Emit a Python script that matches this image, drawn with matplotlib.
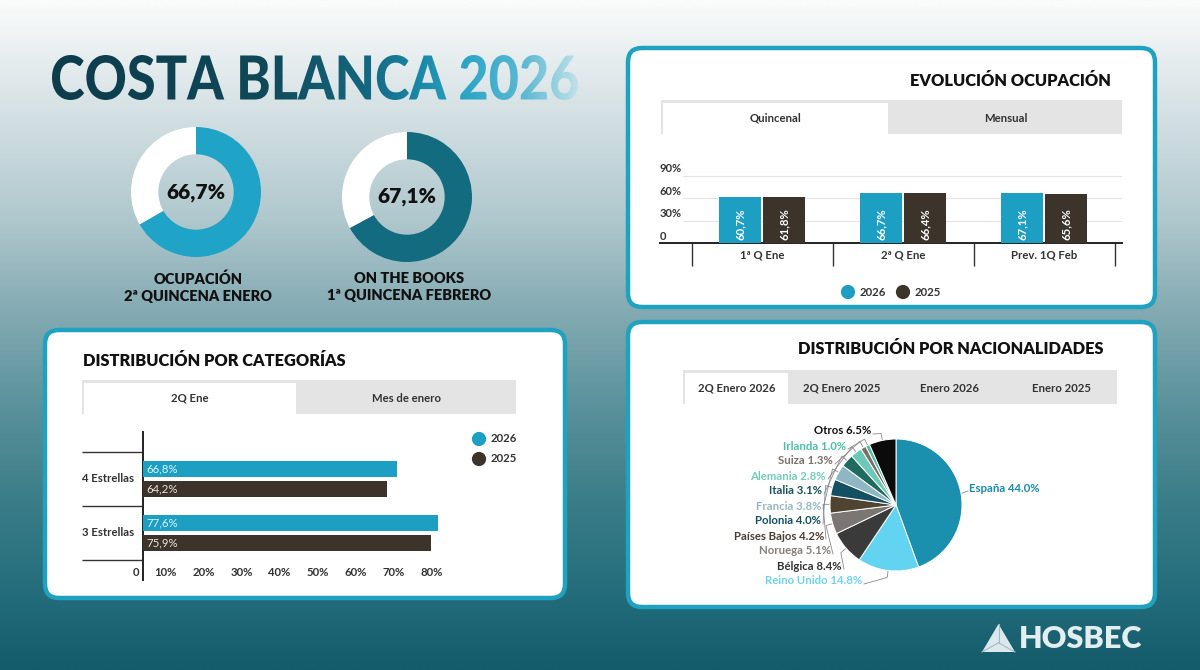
import numpy as np
import matplotlib
matplotlib.use("Agg")
import matplotlib.pyplot as plt
import matplotlib.transforms as mtransforms
from matplotlib.colors import LinearSegmentedColormap
from matplotlib.patches import FancyBboxPatch, Rectangle, PathPatch, Polygon
from matplotlib.textpath import TextPath
from matplotlib.font_manager import FontProperties

# ---- data ----
donut_values = [66.7, 67.1]
donut_labels = ["OCUPACIÓN\n2ª QUINCENA ENERO", "ON THE BOOKS\n1ª QUINCENA FEBRERO"]

evo_cats = ["1ª Q Ene", "2ª Q Ene", "Prev. 1Q Feb"]
evo_2026 = [60.7, 66.7, 67.1]
evo_2025 = [61.8, 66.4, 65.6]
evo_ticks = [0, 30, 60, 90]

cat_names = ["4 Estrellas", "3 Estrellas"]
cat_2026 = [66.8, 77.6]
cat_2025 = [64.2, 75.9]
cat_ticks = [0, 10, 20, 30, 40, 50, 60, 70, 80]

nat_names = ["España", "Reino Unido", "Bélgica", "Noruega", "Países Bajos", "Polonia",
             "Francia", "Italia", "Alemania", "Suiza", "Irlanda", "Otros"]
nat_values = [44.0, 14.8, 8.4, 5.1, 4.2, 4.0, 3.8, 3.1, 2.8, 1.3, 1.0, 6.5]
nat_colors = ["#1a8fae", "#62d3f0", "#3b3a3a", "#7b7672", "#4f4331", "#145062",
              "#8fb6c3", "#1f6b5f", "#6cc8b7", "#7e6f66", "#4ebfa8", "#0b0b0b"]
nat_label_colors = ["#1b8bab", "#6fd2ec", "#333333", "#85807b", "#4b3f31", "#165063",
                    "#97b7c2", "#1c5060", "#74cbb9", "#7a7067", "#4dbfa7", "#111111"]

C26 = "#1c9fc3"
C25 = "#3c342b"
BORDER = "#1ea2c0"
FONT = ["Lato", "DejaVu Sans"]
plt.rcParams["font.family"] = FONT


def fmt(v):
    return f"{v:.1f}".replace(".", ",") + "%"


fig = plt.figure(figsize=(12, 6.7), dpi=100)
W, H = 1200, 670


def px_axes(x0, y0, x1, y1, **kw):
    return fig.add_axes([x0 / W, 1 - y1 / H, (x1 - x0) / W, (y1 - y0) / H], **kw)


bg = px_axes(0, 0, W, H)
bg.axis("off")

# background gradient
bg_cmap = LinearSegmentedColormap.from_list(
    "bg", [(0, "#fafbfb"), (0.15, "#d8e3e6"), (0.33, "#aec7cd"), (0.45, "#88adb5"),
           (0.6, "#5c939c"), (0.75, "#3a7d88"), (0.9, "#226b7a"), (1.0, "#145b6c")])
bg.imshow(np.linspace(0, 1, 300)[:, None], extent=(0, W, H, 0), cmap=bg_cmap,
          aspect="auto", zorder=0)

# title with horizontal gradient
title_cmap = LinearSegmentedColormap.from_list(
    "t", [(0, "#0d3c4b"), (0.40, "#104858"), (0.60, "#146780"), (0.70, "#1a88a8"),
          (0.79, "#2ea5c6"), (0.90, "#5cb9d3"), (1.0, "#bde0e9")])
tp = TextPath((0, 0), "COSTA BLANCA 2026", size=100,
              prop=FontProperties(family="Lato", weight="black"))
ext = tp.get_extents()
sx = (578 - 52) / ext.width
sy = 45 / ext.height
tr = mtransforms.Affine2D().translate(-ext.x0, -ext.y0).scale(sx, -sy).translate(52, 100)
tpatch = PathPatch(tp, transform=tr + bg.transData, facecolor="none", edgecolor="none")
bg.add_patch(tpatch)
tim = bg.imshow(np.linspace(0, 1, 400)[None, :], extent=(52, 578, 100, 55),
                cmap=title_cmap, aspect="auto", zorder=3)
tim.set_clip_path(tpatch)

# donuts
donut_centers = [(196, 192), (407, 197)]
donut_colors = ["#1fa3c6", "#136b80"]
R = 65
for (cx, cy), val, col, lab in zip(donut_centers, donut_values, donut_colors, donut_labels):
    dax = px_axes(cx - R, cy - R, cx + R, cy + R)
    dax.pie([val, 100 - val], colors=[col, "white"], startangle=90, counterclock=False,
            radius=1, wedgeprops=dict(width=0.42, linewidth=0))
    dax.set_xlim(-1, 1)
    dax.set_ylim(-1, 1)
    bg.text(cx, cy, fmt(val), ha="center", va="center", fontsize=15,
            fontweight="heavy", color="#111111", zorder=5)
    bg.text(cx + 2, 287, lab, ha="center", va="center", fontsize=10.5,
            fontweight="heavy", color="#111111", linespacing=1.35, zorder=5)

# panels
def panel(x0, y0, x1, y1):
    bg.add_patch(FancyBboxPatch((x0, y0), x1 - x0, y1 - y0,
                                boxstyle="round,pad=0,rounding_size=14",
                                facecolor="white", edgecolor=BORDER, lw=3.2, zorder=2))


def tabs(x0, y0, x1, y1, active_x1, names, centers):
    bg.add_patch(Rectangle((x0, y0), x1 - x0, y1 - y0, facecolor="#e4e4e4",
                           edgecolor="none", zorder=3))
    bg.add_patch(Rectangle((x0 + 2, y0 + 3), active_x1 - x0 - 2, y1 - y0 - 3,
                           facecolor="white", edgecolor="none", zorder=3))
    for n, c in zip(names, centers):
        bg.text(c, (y0 + y1) / 2 + 1, n, ha="center", va="center", fontsize=8.2,
                fontweight="bold", color="#333333", zorder=4)


panel(628, 48, 1155, 307)
panel(45, 330, 565, 598)
panel(628, 322, 1155, 607)

bg.text(1111, 81, "EVOLUCIÓN OCUPACIÓN", ha="right", va="center", fontsize=11.8,
        fontweight="heavy", color="#111111", zorder=4)
bg.text(83, 361, "DISTRIBUCIÓN POR CATEGORÍAS", ha="left", va="center", fontsize=11.8,
        fontweight="heavy", color="#111111", zorder=4)
bg.text(1103, 349, "DISTRIBUCIÓN POR NACIONALIDADES", ha="right", va="center",
        fontsize=11.8, fontweight="heavy", color="#111111", zorder=4)

tabs(661, 100, 1122, 134, 888, ["Quincenal", "Mensual"], [776, 1006])
tabs(82, 380, 516, 414, 296, ["2Q Ene", "Mes de enero"], [190, 407])
tabs(683, 370, 1117, 404, 788, ["2Q Enero 2026", "2Q Enero 2025", "Enero 2026", "Enero 2025"],
     [737, 842, 949, 1061])

# ---- evolución ocupación ----
cw = 141.0
c0 = 762.0
ax1 = px_axes(660, 160, 1122, 243)
ax1.patch.set_alpha(0)
x = np.arange(len(evo_cats))
bw = 0.30
off = 0.155
ax1.bar(x - off, evo_2026, bw, color=C26, zorder=3)
ax1.bar(x + off, evo_2025, bw, color=C25, zorder=3)
ax1.set_xlim((660 - c0) / cw, (1122 - c0) / cw)
ax1.set_ylim(0, (243 - 160) / 22.5 * 30)
ax1.hlines(evo_ticks[1:], (683 - c0) / cw, (1122 - c0) / cw, color="#e3e3e3", lw=0.8, zorder=1)
for s in ["top", "right", "left"]:
    ax1.spines[s].set_visible(False)
ax1.spines["bottom"].set_color("#222222")
ax1.spines["bottom"].set_linewidth(1.4)
ax1.set_xticks([])
ax1.set_yticks([])
for xi, v in zip(x - off, evo_2026):
    ax1.text(xi, 4, fmt(v), rotation=90, ha="center", va="bottom", color="white",
             fontsize=8.2, fontweight="bold", zorder=4)
for xi, v in zip(x + off, evo_2025):
    ax1.text(xi, 4, fmt(v), rotation=90, ha="center", va="bottom", color="white",
             fontsize=8.2, fontweight="bold", zorder=4)
ylab_tr = mtransforms.offset_copy(mtransforms.blended_transform_factory(bg.transData, ax1.transData),
                                  fig=fig, y=5, units="points")
for t in evo_ticks:
    ax1.text(660, t, "0" if t == 0 else f"{t}%", transform=ylab_tr, ha="left", va="center",
             fontsize=8, fontweight="bold", color="#333333")
sep_tr = mtransforms.blended_transform_factory(ax1.transData, bg.transData)
ax1.vlines(np.arange(len(evo_cats) + 1) - 0.5, 243, 266, transform=sep_tr,
           color="#333333", lw=1, clip_on=False)
for xi, n in zip(x, evo_cats):
    ax1.text(xi, 255, n, transform=sep_tr, ha="center", va="center", fontsize=8.2,
             fontweight="bold", color="#333333", clip_on=False)
bg.scatter([848, 903], [292, 292], s=85, color=[C26, C25], zorder=4)
bg.text(860, 292, "2026", ha="left", va="center", fontsize=8.2, fontweight="bold",
        color="#333333", zorder=4)
bg.text(915, 292, "2025", ha="left", va="center", fontsize=8.2, fontweight="bold",
        color="#333333", zorder=4)

# ---- distribución por categorías ----
ppu = 3.8
ax2 = px_axes(143, 432, 480, 580)
ax2.patch.set_alpha(0)
yc = np.arange(len(cat_names))
bh = 16 / 54
yo = 10 / 54
ax2.barh(yc - yo, cat_2026, bh, color=C26, zorder=3)
ax2.barh(yc + yo, cat_2025, bh, color=C25, zorder=3)
ax2.set_xlim(0, (480 - 143) / ppu)
ax2.set_ylim((580 - 479) / 54, (432 - 479) / 54)
for s in ["top", "right", "bottom"]:
    ax2.spines[s].set_visible(False)
ax2.spines["left"].set_color("#222222")
ax2.spines["left"].set_linewidth(1.4)
ax2.set_xticks([])
ax2.set_yticks([])
for yi, v in zip(yc - yo, cat_2026):
    ax2.text(0.8, yi, fmt(v), ha="left", va="center", fontsize=8.2, color="#d8f4fb", zorder=4)
for yi, v in zip(yc + yo, cat_2025):
    ax2.text(0.8, yi, fmt(v), ha="left", va="center", fontsize=8.2, color="#ece4d8", zorder=4)
lab_tr = mtransforms.blended_transform_factory(bg.transData, ax2.transData)
ax2.hlines(np.arange(len(cat_names) + 1) - 0.5, 82, 143, transform=lab_tr, color="#333333",
           lw=1, clip_on=False)
for yi, n in zip(yc, cat_names):
    ax2.text(82, yi, n, transform=lab_tr, ha="left", va="center", fontsize=8.2,
             fontweight="bold", color="#333333")
tick_tr = mtransforms.offset_copy(mtransforms.blended_transform_factory(ax2.transData, bg.transData),
                                  fig=fig, x=-3, units="points")
for t in cat_ticks:
    ax2.text(t, 572, "0" if t == 0 else f"{t}%", transform=tick_tr, ha="right", va="center",
             fontsize=8.2, fontweight="bold", color="#333333", clip_on=False)
bg.scatter([479, 479], [439, 459], s=85, color=[C26, C25], zorder=4)
bg.text(491, 439, "2026", ha="left", va="center", fontsize=8.2, fontweight="bold",
        color="#333333", zorder=4)
bg.text(491, 459, "2025", ha="left", va="center", fontsize=8.2, fontweight="bold",
        color="#333333", zorder=4)

# ---- distribución por nacionalidades ----
pcx, pcy, pr = 896, 505, 66
ax3 = px_axes(pcx - pr, pcy - pr, pcx + pr, pcy + pr)
ax3.pie(nat_values, colors=nat_colors, startangle=90, counterclock=False, radius=1,
        wedgeprops=dict(edgecolor="white", linewidth=0.7))
ax3.set_xlim(-1, 1)
ax3.set_ylim(-1, 1)

total = sum(nat_values)
cum = np.cumsum([0] + nat_values[:-1])
mids = np.radians(90 - 360 * (cum + np.array(nat_values) / 2) / total)

# label layout: España on the right, the rest stacked on the left
label_right = [871, 846, 833, 826, 822, 821, 821, 824, 831, 842, 862]
for k, i in enumerate(range(len(nat_names) - 1, 0, -1)):
    ly = 431 + 15 * k
    lx = label_right[k]
    ex, ey = pcx + pr * np.cos(mids[i]), pcy - pr * np.sin(mids[i])
    mx, my = pcx + (pr + 7) * np.cos(mids[i]), pcy - (pr + 7) * np.sin(mids[i])
    bg.plot([ex, mx, lx + 2], [ey, my, ly + 3], color="#8a8a8a", lw=0.6, zorder=4)
    bg.text(lx, ly, f"{nat_names[i]} {nat_values[i]:.1f}%", ha="right", va="center",
            fontsize=8.2, fontweight="bold", color=nat_label_colors[i], zorder=5)
ex, ey = pcx + pr * np.cos(mids[0]), pcy - pr * np.sin(mids[0])
bg.plot([ex, 968], [ey, 491], color="#8a8a8a", lw=0.6, zorder=4)
bg.text(969, 488, f"{nat_names[0]} {nat_values[0]:.1f}%", ha="left", va="center",
        fontsize=8.2, fontweight="bold", color=nat_label_colors[0], zorder=5)

# ---- logo ----
tri = [(982, 652), (998.5, 624), (1015, 652)]
bg.add_patch(Polygon(tri, closed=True, facecolor="#dce8ec", edgecolor="none", zorder=4))
gx, gy = np.mean([p[0] for p in tri]), np.mean([p[1] for p in tri])
for p in tri:
    bg.plot([gx, p[0]], [gy, p[1]], color="#9fbcc4", lw=0.8, zorder=5)
bg.text(1019, 639, "HOSBEC", ha="left", va="center", fontsize=22, fontweight="heavy",
        color="#e3eef1", zorder=5)

bg.set_xlim(0, W)
bg.set_ylim(H, 0)

fig.savefig("out.png", dpi=100)
